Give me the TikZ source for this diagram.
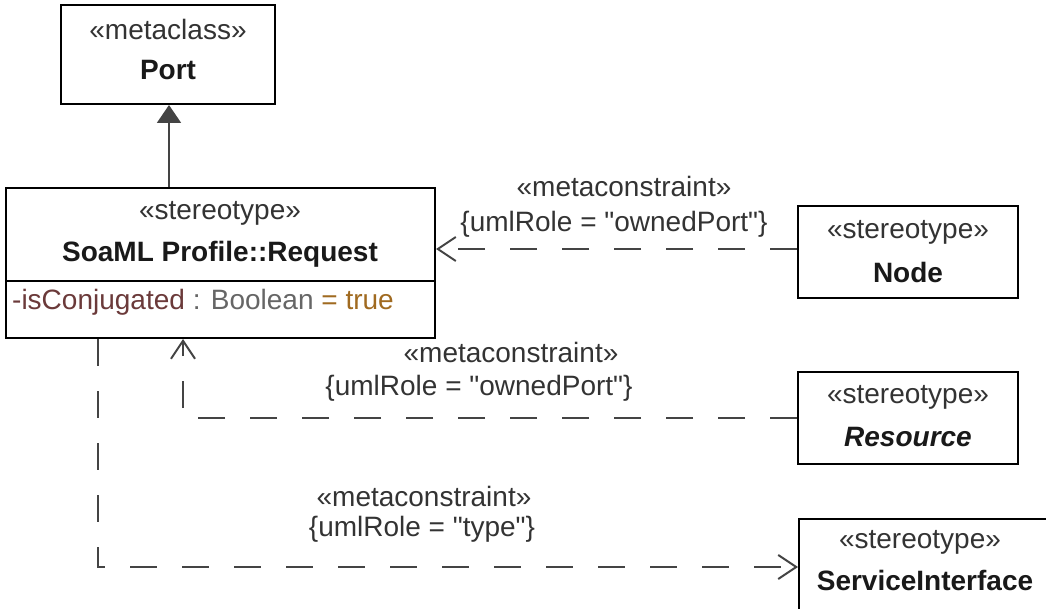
\documentclass[tikz,border=0pt]{standalone}
\usepackage{fontspec}
\setmainfont{Liberation Sans}[Ligatures=TeXOff]
\usetikzlibrary{arrows.meta}
\definecolor{linegray}{HTML}{444444}
\definecolor{attrname}{HTML}{6B3A3A}
\definecolor{attrtype}{HTML}{666666}
\definecolor{attrval}{HTML}{A06A20}
\tikzset{
  umlbox/.style={draw=black, line width=2pt, fill=white, inner sep=0pt},
  txt/.style={inner sep=0pt, font=\fontsize{28}{32}\selectfont, text=black!80},
  btxt/.style={inner sep=0pt, font=\fontsize{28}{32}\selectfont\bfseries, text=black!90},
  dep/.style={draw=linegray, line width=2pt, dash pattern=on 27pt off 25pt, -{Straight Barb[length=18pt,width=24pt,line width=2pt]}},
  gen/.style={draw=linegray, line width=2pt, -{Triangle[length=18pt,width=24pt,fill=linegray]}},
}
\begin{document}
\begin{tikzpicture}[x=1pt,y=-1pt]
\useasboundingbox (0,0) rectangle (1046,609);
% boxes
\node[umlbox, minimum width=214pt, minimum height=99pt] (port) at (168,54.5) {};
\node[umlbox, minimum width=429pt, minimum height=150pt] (req) at (220.5,263) {};
\node[umlbox, minimum width=220pt, minimum height=92pt] (nodeb) at (908,252) {};
\node[umlbox, minimum width=220pt, minimum height=92pt] (res) at (908,418) {};
\node[umlbox, minimum width=262pt, minimum height=122pt] (si) at (930,580) {};
\draw[line width=2pt] (req.west |- 0,281) coordinate (dl) -- (req.east |- 0,281) coordinate (dr);
% texts
\node[txt] (portst) at (168,29) {«metaclass»};
\node[btxt] (portnm) at (168,70) {Port};
\node[txt] (reqst) at (220,213) {«stereotype»};
\node[btxt] (reqnm) at (220,254) {SoaML Profile::Request};
\node[txt, anchor=west] (reqattr) at (12,302) {\textcolor{attrname}{-isConjugated} \textcolor{attrtype}{: Boolean} \textcolor{attrval}{= true}};
\node[txt] (nodest) at (908,232) {«stereotype»};
\node[btxt] (nodenm) at (908,272) {Node};
\node[txt] (resst) at (908,397) {«stereotype»};
\node[btxt, font=\fontsize{28}{32}\selectfont\bfseries\itshape] (resnm) at (908,437) {Resource};
\node[txt] (sist) at (920,542) {«stereotype»};
\node[btxt] (sinm) at (925,580) {ServiceInterface};
% connector labels
\node[txt] (l1a) at (624,186) {«metaconstraint»};
\node[txt] (l1b) at (614,224) {\{umlRole = "ownedPort"\}};
\node[txt] (l2a) at (511,352) {«metaconstraint»};
\node[txt] (l2b) at (479,388) {\{umlRole = "ownedPort"\}};
\node[txt] (l3a) at (424,496) {«metaconstraint»};
\node[txt] (l3b) at (422,529) {\{umlRole = "type"\}};
% connectors
\draw[gen] ([xshift=1pt]port.south |- req.north) -- ([xshift=1pt]port.south);
\draw[dep] ([yshift=3pt]nodeb.west) -- ([yshift=3pt]nodeb.west -| req.east);
\coordinate (r1) at ([xshift=-37.5pt]req.south);
\draw[dep] (res.west) -| (r1);
\coordinate (t1) at ([xshift=-122.5pt]req.south);
\draw[dep] (t1) |- ([yshift=13pt]si.west);
\end{tikzpicture}
\end{document}
